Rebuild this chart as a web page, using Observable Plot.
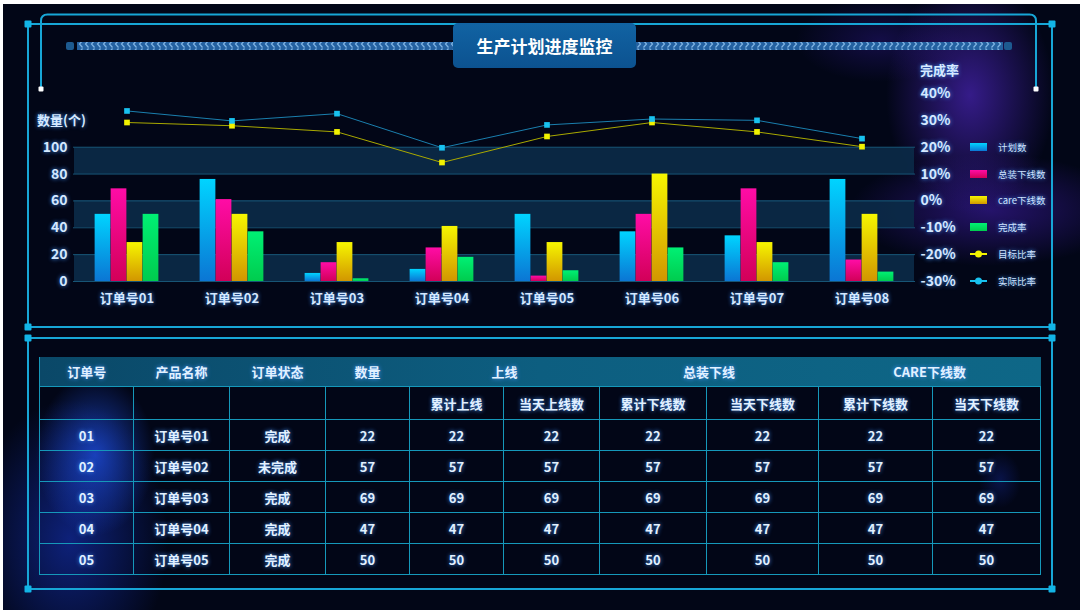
<!DOCTYPE html>
<html><head><meta charset="utf-8">
<script src="https://cdn.jsdelivr.net/npm/d3@7"></script>
<script src="https://cdn.jsdelivr.net/npm/@observablehq/plot@0.6"></script>
<style>
body{margin:0;background:#fff;}
#root{position:absolute;left:0;top:0;width:1080px;height:610px;overflow:hidden;font-family:"Noto Sans CJK SC","Noto Sans",sans-serif;
background:
 radial-gradient(ellipse 120px 170px at 970px 95px, rgba(95,45,230,0.55), transparent 70%),
 radial-gradient(ellipse 200px 80px at 990px 210px, rgba(80,35,210,0.45), transparent 70%),
 radial-gradient(ellipse 120px 60px at 880px 40px, rgba(60,30,180,0.3), transparent 70%),
 radial-gradient(ellipse 85px 115px at 95px 455px, rgba(35,90,255,0.65), transparent 70%),
 radial-gradient(ellipse 140px 200px at 70px 540px, rgba(25,60,220,0.5), transparent 70%),
 radial-gradient(ellipse 30px 40px at 1000px 480px, rgba(30,60,220,0.25), transparent 70%),
 #020617;}
.abs{position:absolute;}
.glow{text-shadow:0 0 4px rgba(70,150,255,0.95);}
#decor,#chart{position:absolute;left:0;top:0;}
#chart svg text{text-shadow:0 0 4px rgba(70,150,255,0.95);}
table.grid{position:absolute;left:39px;top:357px;width:1001px;border-collapse:collapse;table-layout:fixed;color:#e2f1ff;font-size:13px;}
table.grid td{border:1px solid #1598ba;text-align:center;padding:0;text-shadow:0 0 4px rgba(70,150,255,0.95);}
table.grid tr.h1{background:linear-gradient(90deg,#0a4868,#0d5e80 50%,#0e6787);}
table.grid tr.h1 td{border:none;height:29px;font-weight:bold;}
table.grid tr.h1 td:first-child{border-left:1px solid #1598ba;}
table.grid tr.h2 td{height:32px;font-weight:bold;}
table.grid tr.d td{height:30px;font-weight:bold;}
.legend-row{position:absolute;left:970px;height:14px;display:flex;align-items:center;font-size:9.5px;color:#cfe4ff;}
.sw{width:17px;height:8px;margin-right:11px;}
</style></head><body>
<div id="root">
  <div class="abs" style="left:0;top:0;width:1080px;height:4px;background:#fff;z-index:5"></div>
  <div class="abs" style="left:0;top:0;width:3px;height:610px;background:#fff;z-index:5"></div>
  <svg id="decor" width="1080" height="610"></svg>
  <div id="chart"></div>
  <div class="abs" style="left:453px;top:23px;width:183px;height:45px;border-radius:5px;background:linear-gradient(180deg,#1163a3,#0c5290);color:#fff;font-size:17px;font-weight:bold;display:flex;align-items:center;justify-content:center;">生产计划进度监控</div>
  <div class="abs glow" style="left:37px;top:110px;font-size:13px;font-weight:bold;color:#d6eaff;">数量(个)</div>
  <div class="abs glow" style="left:920px;top:60px;font-size:13px;font-weight:bold;color:#d6eaff;">完成率</div>
  <div id="legend"></div>
  <div id="tablewrap"></div>
</div>
<script>
// ---- data ----
const orders = ["订单号01","订单号02","订单号03","订单号04","订单号05","订单号06","订单号07","订单号08"];
const plannedCount   = [50, 76, 6, 9, 50, 37, 34, 76];
const assemblyCount  = [69, 61, 14, 25, 4, 50, 69, 16];
const careCount      = [29, 50, 29, 41, 29, 80, 29, 50];
const completionCnt  = [50, 37, 2, 18, 8, 25, 14, 7];
const targetRatio = [0.292, 0.280, 0.257, 0.143, 0.240, 0.292, 0.257, 0.202];
const actualRatio = [0.335, 0.298, 0.325, 0.198, 0.283, 0.305, 0.300, 0.232];
const leftTicks  = [0, 20, 40, 60, 80, 100];
const rightTicks = [-0.3, -0.2, -0.1, 0, 0.1, 0.2, 0.3, 0.4];
const lightBands = [[0, 20], [40, 60], [80, 100]];
const barNames  = ["计划数", "总装下线数", "care下线数", "完成率"];
const lineNames = ["目标比率", "实际比率"];

const tableTop = ["订单号", "产品名称", "订单状态", "数量", "上线", "总装下线", "CARE下线数"];
const tableTopSpan = [1, 1, 1, 1, 2, 2, 2];
const tableSub = ["", "", "", "", "累计上线", "当天上线数", "累计下线数", "当天下线数", "累计下线数", "当天下线数"];
const rowIds      = ["01", "02", "03", "04", "05"];
const productNames = ["订单号01", "订单号02", "订单号03", "订单号04", "订单号05"];
const orderStatus = ["完成", "未完成", "完成", "完成", "完成"];
const quantity    = [22, 57, 69, 47, 50];
const onlineTotal = [22, 57, 69, 47, 50];
const onlineToday = [22, 57, 69, 47, 50];
const asmTotal    = [22, 57, 69, 47, 50];
const asmToday    = [22, 57, 69, 47, 50];
const careTotal   = [22, 57, 69, 47, 50];
const careToday   = [22, 57, 69, 47, 50];
const colWidths = [94, 96, 96, 84, 94, 96, 107, 112, 114, 108];

// ---- styles ----
const barColors = [["#00d4ff", "#0b76d4"], ["#ff0ca6", "#d20058"], ["#f6f600", "#d29600"], ["#00f074", "#00cc4e"]];
const lineColors = [{line: "#a9a900", dot: "#f2f200"}, {line: "#1a7fae", dot: "#18c2f0"}];

const NS = "http://www.w3.org/2000/svg";
function el(tag, attrs) { const e = document.createElementNS(NS, tag); for (const k in attrs) e.setAttribute(k, attrs[k]); return e; }

// ---- decorations ----
const decor = document.getElementById("decor");
const defs0 = el("defs", {});
const patL = el("pattern", {id: "chevL", width: 6, height: 8, patternUnits: "userSpaceOnUse"});
patL.appendChild(el("rect", {width: 6, height: 8, fill: "#2461a0"}));
patL.appendChild(el("path", {d: "M4.5,0.5 L1.5,4 L4.5,7.5", stroke: "#7fb4e4", "stroke-width": 1.2, fill: "none"}));
const patR = el("pattern", {id: "chevR", width: 6, height: 8, patternUnits: "userSpaceOnUse"});
patR.appendChild(el("rect", {width: 6, height: 8, fill: "#2461a0"}));
patR.appendChild(el("path", {d: "M1.5,0.5 L4.5,4 L1.5,7.5", stroke: "#7fb4e4", "stroke-width": 1.2, fill: "none"}));
defs0.appendChild(patL); defs0.appendChild(patR);
decor.appendChild(defs0);
const cyan = "#17a6d6";
function line(x1, y1, x2, y2, w) { decor.appendChild(el("line", {x1, y1, x2, y2, stroke: cyan, "stroke-width": w || 2})); }
function sq(x, y, s, f) { decor.appendChild(el("rect", {x: x - s / 2, y: y - s / 2, width: s, height: s, fill: f, rx: 1})); }
// top panel
line(28, 24, 1052, 24); line(28, 24, 28, 327); line(1052, 24, 1052, 327); line(28, 327, 1052, 327);
decor.appendChild(el("path", {d: "M41,89 V21 Q41,14.5 47.5,14.5 H1029.5 Q1036,14.5 1036,21 V89", stroke: cyan, "stroke-width": 2, fill: "none"}));
sq(41, 89, 5, "#fff"); sq(1036, 89, 5, "#fff");
[[28, 24], [1052, 24], [28, 327], [1052, 327]].forEach(p => sq(p[0], p[1], 7, "#12b4e6"));
// bottom panel
line(28, 338, 1052, 338); line(28, 338, 28, 589); line(1052, 338, 1052, 589); line(28, 589, 1052, 589);
[[28, 338], [1052, 338], [28, 589], [1052, 589]].forEach(p => sq(p[0], p[1], 7, "#12b4e6"));
// chevron strips
decor.appendChild(el("rect", {x: 77, y: 42, width: 376, height: 8, fill: "url(#chevL)"}));
decor.appendChild(el("rect", {x: 636, y: 42, width: 367, height: 8, fill: "url(#chevR)"}));
decor.appendChild(el("rect", {x: 66, y: 42, width: 8, height: 8, rx: 2, fill: "#1d5a90"}));
decor.appendChild(el("rect", {x: 1004, y: 42, width: 8, height: 8, rx: 2, fill: "#1d5a90"}));

// ---- chart ----
const ratioToCount = d3.scaleLinear([-0.3, 0.4], [0, 140]);
const barSeries = [plannedCount, assemblyCount, careCount, completionCnt];
const W = 1080, mL = 73, mR = 165;
const bw = (W - mL - mR) / orders.length;
const barW = 16;
const bandCells = lightBands.flatMap(b => orders.map(o => ({order: o, lo: b[0], hi: b[1]})));

function gradDefs() {
  const defs = el("defs", {});
  barColors.forEach((c, k) => {
    const g = el("linearGradient", {id: "barGrad" + k, x1: 0, y1: 0, x2: 0, y2: 1});
    g.appendChild(el("stop", {offset: "0%", "stop-color": c[0]}));
    g.appendChild(el("stop", {offset: "100%", "stop-color": c[1]}));
    defs.appendChild(g);
  });
  return defs;
}

const chart = Plot.plot({
  width: W, height: 330,
  marginLeft: mL, marginRight: mR, marginTop: 93, marginBottom: 49,
  style: {background: "transparent", color: "#d4e8ff", fontFamily: "'Noto Sans CJK SC', sans-serif"},
  x: {type: "band", domain: orders, padding: 0, axis: null},
  y: {domain: [0, 140], axis: null},
  marks: [
    gradDefs,
    Plot.barY(bandCells, {x: "order", y1: "lo", y2: "hi", fill: "#0b2b48", fillOpacity: 0.9, shapeRendering: "crispEdges"}),
    Plot.ruleY(leftTicks, {stroke: "#175475", strokeWidth: 1}),
    ...barSeries.map((vals, k) => Plot.barY(orders, {
      x: d => d, y: (d, i) => vals[i], fill: `url(#barGrad${k})`,
      dx: (k - 1.5) * barW, insetLeft: bw / 2 - barW / 2, insetRight: bw / 2 - barW / 2
    })),
    Plot.line(orders, {x: d => d, y: (d, i) => ratioToCount(targetRatio[i]), stroke: lineColors[0].line, strokeWidth: 1}),
    Plot.line(orders, {x: d => d, y: (d, i) => ratioToCount(actualRatio[i]), stroke: lineColors[1].line, strokeWidth: 1}),
    Plot.dot(orders, {x: d => d, y: (d, i) => ratioToCount(targetRatio[i]), symbol: "square", r: 3.2, fill: lineColors[0].dot}),
    Plot.dot(orders, {x: d => d, y: (d, i) => ratioToCount(actualRatio[i]), symbol: "square", r: 3.2, fill: lineColors[1].dot}),
    Plot.axisX({tickSize: 0, tickPadding: 12, fontSize: 13, fontWeight: "bold", label: null}),
    Plot.axisY(leftTicks, {anchor: "left", tickSize: 0, tickPadding: 6, fontSize: 14, fontWeight: "bold", label: null}),
    Plot.axisY(rightTicks.map(ratioToCount), {anchor: "right", tickSize: 0, tickPadding: 5, fontSize: 14, fontWeight: "bold", label: null,
      tickFormat: v => Math.round(ratioToCount.invert(v) * 100) + "%"})
  ]
});
document.getElementById("chart").appendChild(chart);

// ---- legend (rows aligned to the right-axis ticks 20% .. -30%) ----
const legend = document.getElementById("legend");
const yScale = chart.scale("y");
barNames.forEach((n, k) => {
  const row = document.createElement("div");
  row.className = "legend-row glow";
  row.style.top = (yScale.apply(ratioToCount(0.2 - 0.1 * k)) - 7) + "px";
  row.innerHTML = `<div class="sw" style="background:linear-gradient(180deg,${barColors[k][0]},${barColors[k][1]})"></div><span>${n}</span>`;
  legend.appendChild(row);
});
lineNames.forEach((n, k) => {
  const row = document.createElement("div");
  row.className = "legend-row glow";
  row.style.top = (yScale.apply(ratioToCount(-0.2 - 0.1 * k)) - 7) + "px";
  const c = lineColors[k].dot;
  row.innerHTML = `<svg width="17" height="10" style="margin-right:11px"><line x1="0" y1="5" x2="17" y2="5" stroke="${c}" stroke-width="2"/><circle cx="8.5" cy="5" r="3.5" fill="${c}"/></svg><span>${n}</span>`;
  legend.appendChild(row);
});

// ---- table ----
const cols = [rowIds, productNames, orderStatus, quantity, onlineTotal, onlineToday, asmTotal, asmToday, careTotal, careToday];
let html = '<table class="grid"><colgroup>' + colWidths.map(w => `<col style="width:${w}px">`).join("") + "</colgroup>";
html += '<tr class="h1">' + tableTop.map((t, i) => `<td colspan="${tableTopSpan[i]}">${t}</td>`).join("") + "</tr>";
html += '<tr class="h2">' + tableSub.map(t => `<td>${t}</td>`).join("") + "</tr>";
rowIds.forEach((_, r) => {
  html += '<tr class="d">' + cols.map(c => `<td>${c[r]}</td>`).join("") + "</tr>";
});
html += "</table>";
document.getElementById("tablewrap").innerHTML = html;
</script>
</body></html>
